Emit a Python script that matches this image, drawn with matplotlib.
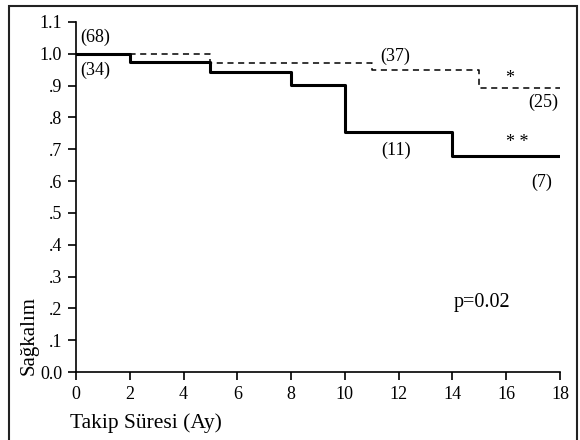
import matplotlib
matplotlib.use("Agg")
import matplotlib.pyplot as plt
from matplotlib.patches import Rectangle

# Kaplan-Meier step data
solid_t = [0, 2, 5, 8, 10, 14, 18]
solid_s = [1.0, 0.973, 0.943, 0.902, 0.754, 0.679, 0.679]
dash_t = [0, 5, 11, 15, 18]
dash_s = [1.0, 0.972, 0.948, 0.891, 0.891]

xticks = [0, 2, 4, 6, 8, 10, 12, 14, 16, 18]
yticks = [0.0, 0.1, 0.2, 0.3, 0.4, 0.5, 0.6, 0.7, 0.8, 0.9, 1.0, 1.1]
ytick_labels = ["0.0", ".1", ".2", ".3", ".4", ".5", ".6", ".7", ".8", ".9", "1.0", "1.1"]

plt.rcParams['font.family'] = ['Liberation Serif', 'DejaVu Serif']

fig = plt.figure(figsize=(5.8, 4.4), dpi=100)
fig.patches.append(Rectangle((9/580, -0.01), (577-9)/580, 1-6/440 + 0.01,
                             transform=fig.transFigure, fill=False,
                             edgecolor='#222222', linewidth=1.5))
ax = fig.add_axes([76/580, 1-372/440, (560-76)/580, (372-22)/440])

ax.step(solid_t, solid_s, where='post', color='black', linewidth=2.2)
ax.step(dash_t, dash_s, where='post', color='black', linewidth=1.1,
        linestyle=(0, (4, 3)))

ax.set_xlim(0, 18)
ax.set_ylim(0, 1.1)
ax.set_xticks(xticks)
ax.set_yticks(yticks)
ax.set_yticklabels(ytick_labels)
ax.spines['top'].set_visible(False)
ax.spines['right'].set_visible(False)
ax.spines['left'].set_linewidth(1.2)
ax.spines['bottom'].set_linewidth(1.2)
ax.tick_params(direction='out', length=6, width=1.2, labelsize=13, pad=4)

fs = 13
ax.text(0.15, 1.053, "(68)", fontsize=fs, ha='left', va='center')
ax.text(0.15, 0.949, "(34)", fontsize=fs, ha='left', va='center')
ax.text(11.86, 0.993, "(37)", fontsize=fs, ha='center', va='center')
ax.text(16.14, 0.922, "*", fontsize=fs, ha='center', va='center')
ax.text(17.37, 0.849, "(25)", fontsize=fs, ha='center', va='center')
ax.text(16.4, 0.722, "* *", fontsize=fs, ha='center', va='center')
ax.text(11.9, 0.698, "(11)", fontsize=fs, ha='center', va='center')
ax.text(17.33, 0.597, "(7)", fontsize=fs, ha='center', va='center')
ax.text(15.1, 0.22, "p=0.02", fontsize=14.5, ha='center', va='center')

fig.text(29/580, 1-375/440, "Sağkalım", rotation=90, fontsize=15,
         ha='center', va='bottom')
fig.text(70/580, 1-428/440, "Takip Süresi (Ay)", fontsize=15.5,
         ha='left', va='baseline')

fig.savefig("out.png", dpi=100)
